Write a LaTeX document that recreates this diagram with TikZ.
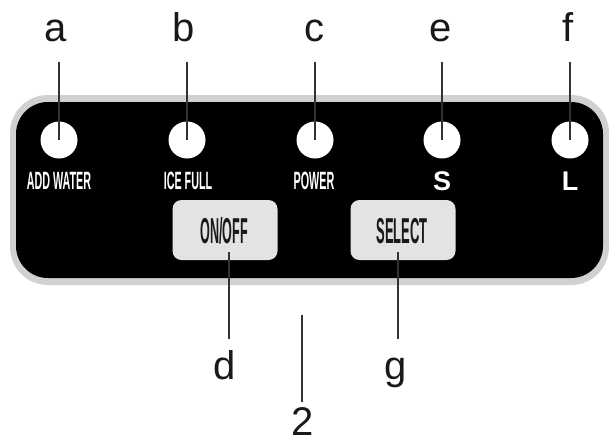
\documentclass[tikz,border=0pt]{standalone}
\usepackage{fontspec}
\setmainfont{Liberation Sans}
\usepackage{graphicx}
\usetikzlibrary{calc}
\begin{document}
\begin{tikzpicture}[x=1pt,y=-1pt,
  lbl/.style={inner sep=0pt,anchor=base,font=\fontsize{40}{48}\selectfont,text=black!90},
  lamp/.style={circle,fill=white,minimum size=37pt,inner sep=0pt},
  ltxt/.style={inner sep=0pt,anchor=base,text=white,font=\bfseries\fontsize{25}{30}\selectfont},
  btn/.style={fill=black!11,rounded corners=9pt,minimum width=105pt,minimum height=60pt,inner sep=0pt},
  btxt/.style={inner sep=0pt,anchor=base,text=black!90,font=\bfseries\fontsize{36}{40}\selectfont},
  lead/.style={line width=1.4pt,draw=black!80}]
\useasboundingbox (0,0) rectangle (609,442);
% panel
\fill[black!18,rounded corners=38pt] (10,95) rectangle (609,285);
\fill[black,rounded corners=32pt] (16,102) rectangle (603,278);
% lamps
\node[lamp] (ca) at (59,140) {};
\node[lamp] (cb) at (187,140) {};
\node[lamp] (cc) at (315,140) {};
\node[lamp] (ce) at (442,140) {};
\node[lamp] (cf) at (570,140) {};
% lamp texts
\node[ltxt] (ta) at (59,189) {\scalebox{0.43}[1]{ADD WATER}};
\node[ltxt] (tb) at (188,189) {\scalebox{0.43}[1]{ICE FULL}};
\node[ltxt] (tc) at (314,189) {\scalebox{0.43}[1]{POWER}};
\node[ltxt] (te) at (442,190) {\fontsize{27}{30}\selectfont S};
\node[ltxt] (tf) at (570,190) {\fontsize{27}{30}\selectfont L};
% buttons
\node[btn] (onoff) at (225,230) {};
\node[btn] (select) at (403,230) {};
\node[btxt] (tonoff) at (224,243) {\scalebox{0.35}[1]{ON/OFF}};
\node[btxt] (tselect) at (402,243) {\scalebox{0.36}[1]{SELECT}};
% top labels
\node[lbl] (la) at (56,41) {a};
\node[lbl] (lb) at (184,41) {b};
\node[lbl] (lc) at (314,41) {c};
\node[lbl] (le) at (441,41) {e};
\node[lbl] (lf) at (568,41) {f};
\coordinate (pa) at (59,62);
\coordinate (pb) at (187,62);
\coordinate (pc) at (315,62);
\coordinate (pe) at (442,62);
\coordinate (pf) at (570,62);
\draw[lead] (pa) -- (ca.center);
\draw[lead] (pb) -- (cb.center);
\draw[lead] (pc) -- (cc.center);
\draw[lead] (pe) -- (ce.center);
\draw[lead] (pf) -- (cf.center);
% bottom labels
\node[lbl] (ld) at (225,379) {d};
\node[lbl] (lg) at (396,379) {g};
\node[lbl] (l2) at (303,435) {2};
\coordinate (qd) at (229,339);
\coordinate (qg) at (398,339);
\coordinate (ptop) at (302,315);
\coordinate (pbot) at (302,402);
\draw[lead] ($(onoff.center)+(4,22)$) -- (qd);
\draw[lead] ($(select.center)+(-5,22)$) -- (qg);
\draw[lead] (ptop) -- (pbot);
\end{tikzpicture}
\end{document}
